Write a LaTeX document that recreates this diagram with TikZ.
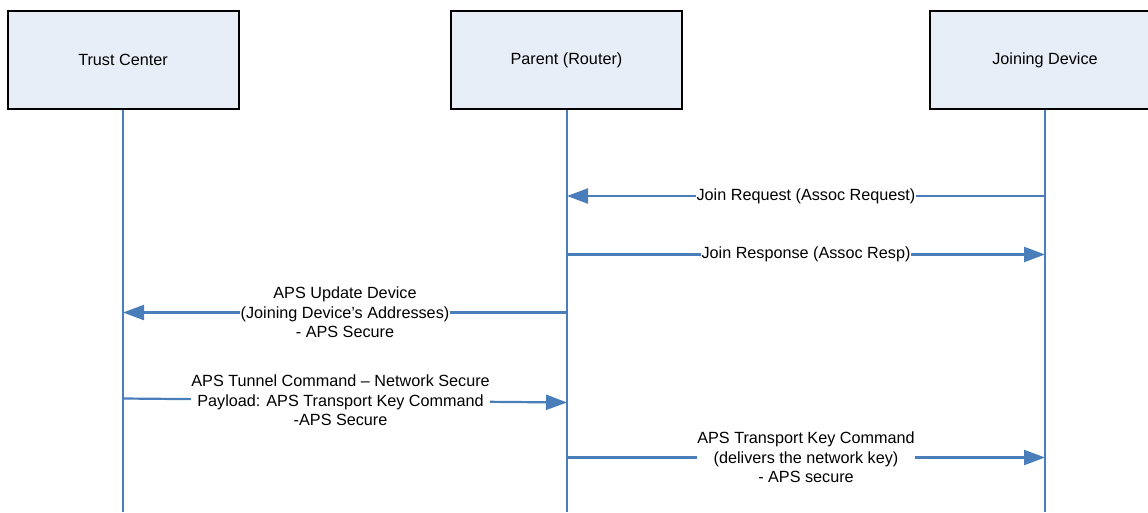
\documentclass[tikz,border=0pt]{standalone}
\usepackage{fontspec}
\setmainfont{Liberation Sans}
\usetikzlibrary{arrows.meta}
\definecolor{lifeblue}{HTML}{4A7EBB}
\definecolor{boxfill}{HTML}{E8EEF7}
\begin{document}
\begin{tikzpicture}[x=1pt,y=-1pt,
  txt/.style={font=\fontsize{16.2}{19.3}\selectfont},
  actor/.style={txt,draw=black,line width=2pt,fill=boxfill,
    minimum width=231pt,minimum height=98pt,inner sep=0pt},
  lifeline/.style={draw=lifeblue,line width=2.2pt},
  msg/.style={draw=lifeblue,line width=2.2pt,
    -{Triangle[length=21pt,width=15pt]}},
  msglabel/.style={txt,fill=white,inner xsep=0.5pt,inner ysep=1pt,align=center}
]
\useasboundingbox (0,0) rectangle (1148,512);
\clip (0,0) rectangle (1148,512);

% participants
\node[actor] (tc) at (123,60) {Trust Center};
\node[actor] (pr) at (566.5,60) {Parent (Router)};
\node[actor] (jd) at (1045,60) {Joining Device};

% lifeline ends
\coordinate (tcEnd) at (123,512);
\coordinate (prEnd) at (567,512);
\coordinate (jdEnd) at (1045,512);
\draw[lifeline] (tc.south -| tcEnd) -- (tcEnd);
\draw[lifeline] (pr.south -| prEnd) -- (prEnd);
\draw[lifeline] (jd.south -| jdEnd) -- (jdEnd);

% message anchor points on the lifelines
\coordinate (jd1) at (1045,196);
\coordinate (pr1) at (567,196);
\coordinate (pr2) at (567,254.5);
\coordinate (jd2) at (1045,254.5);
\coordinate (pr3) at (567,312.5);
\coordinate (tc3) at (123,312.5);
\coordinate (tc4) at (123,398.5);
\coordinate (pr4) at (567,402.5);
\coordinate (pr5) at (567,457.5);
\coordinate (jd5) at (1045,457.5);

% messages
\draw[msg] (jd1) -- node[msglabel] (m1) {Join Request (Assoc Request)} (pr1);
\draw[msg] (pr2) -- node[msglabel] (m2) {Join Response (Assoc Resp)} (jd2);
\draw[msg] (pr3) -- node[msglabel] (m3)
  {APS Update Device\\(Joining Device’s Addresses)\\- APS Secure} (tc3);
\draw[msg] (tc4) -- node[msglabel,pos=0.49] (m4)
  {APS Tunnel Command – Network Secure\\Payload: APS Transport Key Command\\-APS Secure} (pr4);
\draw[msg] (pr5) -- node[msglabel] (m5)
  {APS Transport Key Command\\(delivers the network key)\\- APS secure} (jd5);
\end{tikzpicture}
\end{document}
